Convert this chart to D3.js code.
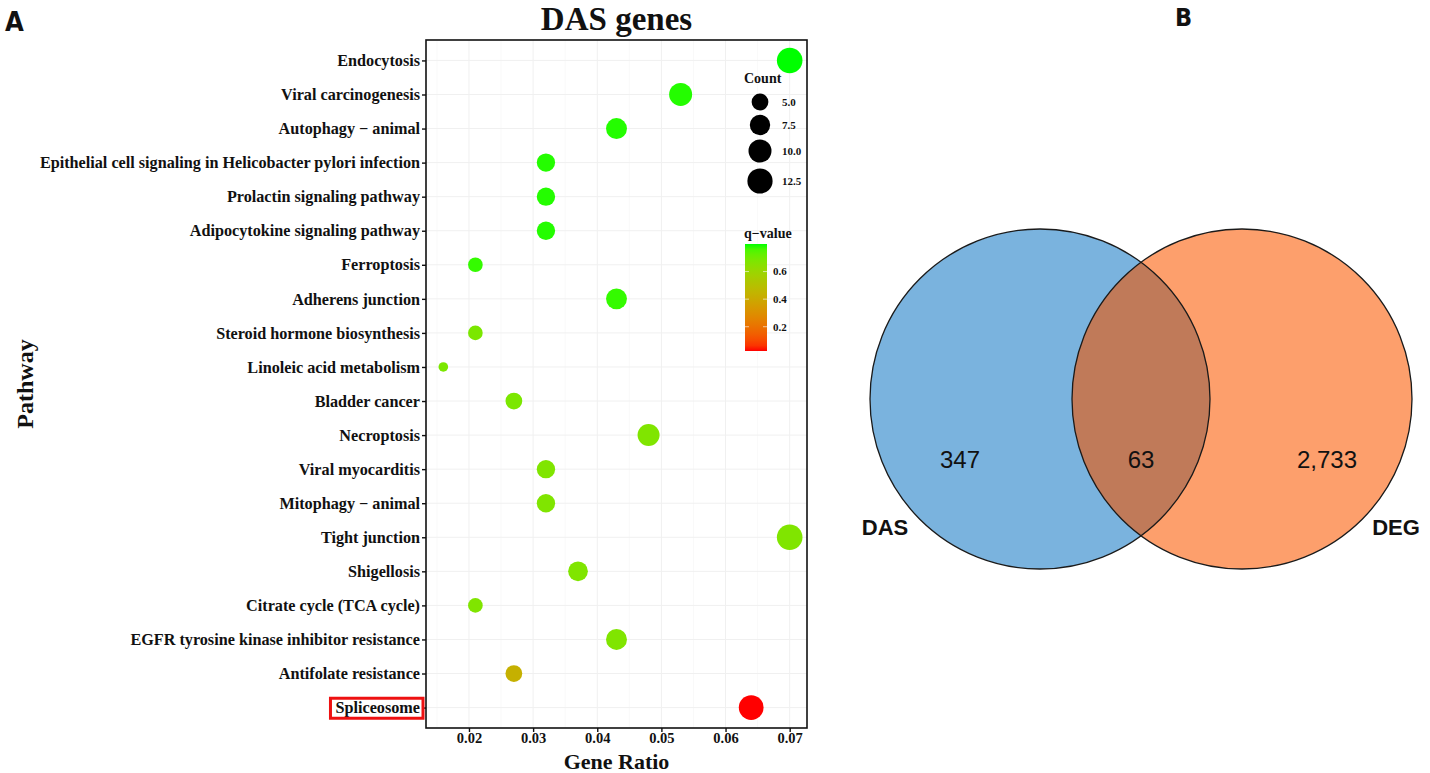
<!DOCTYPE html>
<html>
<head>
<meta charset="utf-8">
<script src="https://cdn.jsdelivr.net/npm/d3@7"></script>
<style>
    body { margin: 0; background: #ffffff; }
    svg { display: block; }
</style>
</head>
<body>
<div id="chart"></div>
<script>
(function () {
    'use strict';

    // KEGG dot plot, rows listed top to bottom
    var pathways = [
        'Endocytosis',
        'Viral carcinogenesis',
        'Autophagy \u2212 animal',
        'Epithelial cell signaling in Helicobacter pylori infection',
        'Prolactin signaling pathway',
        'Adipocytokine signaling pathway',
        'Ferroptosis',
        'Adherens junction',
        'Steroid hormone biosynthesis',
        'Linoleic acid metabolism',
        'Bladder cancer',
        'Necroptosis',
        'Viral myocarditis',
        'Mitophagy \u2212 animal',
        'Tight junction',
        'Shigellosis',
        'Citrate cycle (TCA cycle)',
        'EGFR tyrosine kinase inhibitor resistance',
        'Antifolate resistance',
        'Spliceosome'
    ];
    var geneRatio = [0.070, 0.053, 0.043, 0.032, 0.032, 0.032, 0.021, 0.043, 0.021, 0.016,
                     0.027, 0.048, 0.032, 0.032, 0.070, 0.037, 0.021, 0.043, 0.027, 0.064];
    var geneCount = [13, 10, 8, 6, 6, 6, 4, 8, 4, 3, 5, 9, 6, 6, 13, 7, 4, 8, 5, 12];
    var qValue = [0.80, 0.79, 0.79, 0.79, 0.79, 0.79, 0.78, 0.78, 0.68, 0.68,
                  0.68, 0.67, 0.67, 0.67, 0.67, 0.67, 0.67, 0.67, 0.43, 0.024];

    var xTicks = [0.02, 0.03, 0.04, 0.05, 0.06, 0.07];
    var sizeBreaks = [5.0, 7.5, 10.0, 12.5];
    var qBreaks = [0.2, 0.4, 0.6];
    var highlighted = 'Spliceosome';

    // Venn: DAS only, both, DEG only
    var vennSets = ['DAS', 'DEG'];
    var vennCounts = [347, 63, 2733];

    var svgWidth = 1430;
    var svgHeight = 773;
    var panel = { left: 426, top: 40, right: 807, bottom: 728 };
    var serif = '"Liberation Serif", "Times New Roman", serif';
    var sans = '"Liberation Sans", Arial, sans-serif';
    var narrow = '"Liberation Sans Narrow", "DejaVu Sans Condensed", "Liberation Sans", sans-serif';
    var ink = '#111111';

    var rows = pathways.map(function (p, i) {
        return { pathway: p, ratio: geneRatio[i], count: geneCount[i], q: qValue[i] };
    });

    var svg = d3.select('#chart')
        .append('svg')
        .attr('width', svgWidth)
        .attr('height', svgHeight);

    var defs = svg.append('defs');

    drawDotPlot();
    drawVenn();
    drawPanelLetters();

    function drawDotPlot() {
        var ext = d3.extent(geneRatio);
        var pad = (ext[1] - ext[0]) * 0.05;
        var x = d3.scaleLinear()
            .domain([ext[0] - pad, ext[1] + pad])
            .range([panel.left, panel.right]);
        var y = d3.scalePoint()
            .domain(pathways)
            .range([panel.top, panel.bottom])
            .padding(0.6);

        var cExt = d3.extent(geneCount);
        var sizeNorm = d3.scaleLinear().domain(cExt).range([0, 1]);
        var sizeRange = d3.scaleLinear().domain([0, 1]).range([4.8, 12.8]);
        var radius = function (c) { return sizeRange(Math.sqrt(Math.max(0, sizeNorm(c)))); };

        var qExt = d3.extent(qValue);
        var color = d3.scaleLinear()
            .domain(qExt)
            .range(['#ff0000', '#00ff00'])
            .interpolate(d3.interpolateLab);

        var plot = svg.append('g');

        // faint grid
        var minorX = xTicks.map(function (t) { return t - 0.005; }).concat([0.075]);
        plot.append('g').selectAll('line')
            .data(minorX.filter(function (t) { return x(t) > panel.left && x(t) < panel.right; }))
            .join('line')
            .attr('x1', function (d) { return x(d); })
            .attr('x2', function (d) { return x(d); })
            .attr('y1', panel.top)
            .attr('y2', panel.bottom)
            .attr('stroke', '#f7f7f7')
            .attr('stroke-width', 0.8);
        plot.append('g').selectAll('line')
            .data(xTicks)
            .join('line')
            .attr('x1', function (d) { return x(d); })
            .attr('x2', function (d) { return x(d); })
            .attr('y1', panel.top)
            .attr('y2', panel.bottom)
            .attr('stroke', '#f0f0f0')
            .attr('stroke-width', 1);
        plot.append('g').selectAll('line')
            .data(pathways)
            .join('line')
            .attr('x1', panel.left)
            .attr('x2', panel.right)
            .attr('y1', function (d) { return y(d); })
            .attr('y2', function (d) { return y(d); })
            .attr('stroke', '#f0f0f0')
            .attr('stroke-width', 1);

        // dots
        plot.append('g').selectAll('circle')
            .data(rows)
            .join('circle')
            .attr('cx', function (d) { return x(d.ratio); })
            .attr('cy', function (d) { return y(d.pathway); })
            .attr('r', function (d) { return radius(d.count); })
            .attr('fill', function (d) { return color(d.q); });

        // axes
        var xAxis = plot.append('g')
            .attr('transform', 'translate(0,' + panel.bottom + ')')
            .call(d3.axisBottom(x).tickValues(xTicks).tickFormat(d3.format('.2f')).tickSize(4).tickPadding(1));
        styleAxis(xAxis, 14.5);

        var yAxis = plot.append('g')
            .attr('transform', 'translate(' + panel.left + ',0)')
            .call(d3.axisLeft(y).tickSize(4).tickPadding(2));
        styleAxis(yAxis, 16.2);

        // panel border
        plot.append('rect')
            .attr('x', panel.left)
            .attr('y', panel.top)
            .attr('width', panel.right - panel.left)
            .attr('height', panel.bottom - panel.top)
            .attr('fill', 'none')
            .attr('stroke', ink)
            .attr('stroke-width', 1.6);

        // red box round highlighted pathway
        yAxis.selectAll('.tick')
            .filter(function (d) { return d === highlighted; })
            .each(function () {
                var t = d3.select(this).select('text');
                var bb = t.node().getBBox();
                d3.select(this).append('rect')
                    .attr('x', bb.x - 5)
                    .attr('y', bb.y - 1)
                    .attr('width', bb.width + 8)
                    .attr('height', bb.height + 2)
                    .attr('fill', 'none')
                    .attr('stroke', '#ee1111')
                    .attr('stroke-width', 3);
            });

        // titles
        svg.append('text')
            .attr('x', (panel.left + panel.right) / 2)
            .attr('y', 30)
            .attr('text-anchor', 'middle')
            .attr('font-family', serif)
            .attr('font-weight', 'bold')
            .attr('font-size', 33)
            .attr('fill', ink)
            .text('DAS genes');
        svg.append('text')
            .attr('x', (panel.left + panel.right) / 2)
            .attr('y', 769)
            .attr('text-anchor', 'middle')
            .attr('font-family', serif)
            .attr('font-weight', 'bold')
            .attr('font-size', 22)
            .attr('fill', ink)
            .text('Gene Ratio');
        svg.append('text')
            .attr('transform', 'translate(33,' + ((panel.top + panel.bottom) / 2) + ') rotate(-90)')
            .attr('text-anchor', 'middle')
            .attr('font-family', serif)
            .attr('font-weight', 'bold')
            .attr('font-size', 24)
            .attr('fill', ink)
            .text('Pathway');

        drawLegends(radius, color, qExt);
    }

    function styleAxis(axis, fontSize) {
        axis.select('.domain').remove();
        axis.selectAll('.tick line')
            .attr('stroke', ink)
            .attr('stroke-width', 1.4);
        axis.selectAll('.tick text')
            .attr('font-family', serif)
            .attr('font-weight', 'bold')
            .attr('font-size', fontSize)
            .attr('fill', ink);
    }

    function drawLegends(radius, color, qExt) {
        var lg = svg.append('g');

        lg.append('text')
            .attr('x', 744)
            .attr('y', 83)
            .attr('font-family', serif)
            .attr('font-weight', 'bold')
            .attr('font-size', 14)
            .attr('fill', ink)
            .text('Count');

        var keyY = [102, 125, 151, 181];
        var keys = lg.append('g').selectAll('g')
            .data(sizeBreaks)
            .join('g')
            .attr('transform', function (d, i) { return 'translate(760,' + keyY[i] + ')'; });
        keys.append('circle')
            .attr('r', function (d) { return radius(d); })
            .attr('fill', '#000000');
        keys.append('text')
            .attr('x', 22)
            .attr('dy', '0.35em')
            .attr('font-family', serif)
            .attr('font-weight', 'bold')
            .attr('font-size', 11)
            .attr('fill', ink)
            .text(function (d) { return d3.format('.1f')(d); });

        lg.append('text')
            .attr('x', 744)
            .attr('y', 238)
            .attr('font-family', serif)
            .attr('font-weight', 'bold')
            .attr('font-size', 14)
            .attr('fill', ink)
            .text('q\u2212value');

        var barTop = 244;
        var barBottom = 351;
        var barX = 745;
        var barW = 22;
        var qy = d3.scaleLinear().domain(qExt).range([barBottom, barTop]);

        var grad = defs.append('linearGradient')
            .attr('id', 'qgrad')
            .attr('x1', 0).attr('y1', 1)
            .attr('x2', 0).attr('y2', 0);
        grad.selectAll('stop')
            .data(d3.range(0, 1.0001, 0.05))
            .join('stop')
            .attr('offset', function (t) { return t; })
            .attr('stop-color', function (t) { return color(qExt[0] + t * (qExt[1] - qExt[0])); });

        lg.append('rect')
            .attr('x', barX)
            .attr('y', barTop)
            .attr('width', barW)
            .attr('height', barBottom - barTop)
            .attr('fill', 'url(#qgrad)');

        var ticks = lg.append('g').selectAll('g')
            .data(qBreaks)
            .join('g')
            .attr('transform', function (d) { return 'translate(0,' + qy(d) + ')'; });
        ticks.append('line')
            .attr('x1', barX).attr('x2', barX + 4)
            .attr('stroke', '#ffffff').attr('stroke-opacity', 0.6);
        ticks.append('line')
            .attr('x1', barX + barW - 4).attr('x2', barX + barW)
            .attr('stroke', '#ffffff').attr('stroke-opacity', 0.6);
        ticks.append('text')
            .attr('x', barX + barW + 6)
            .attr('dy', '0.35em')
            .attr('font-family', serif)
            .attr('font-weight', 'bold')
            .attr('font-size', 11)
            .attr('fill', ink)
            .text(function (d) { return d3.format('.1f')(d); });
    }

    function drawVenn() {
        var cx = 1141;
        var cy = 399;
        var r = 170;
        var gap = 202; // distance between the two centres
        var centres = [cx - gap / 2, cx + gap / 2];
        var fills = ['#7ab3de', '#fd9f6c'];

        var g = svg.append('g');

        defs.append('clipPath').attr('id', 'leftClip')
            .append('circle')
            .attr('cx', centres[0]).attr('cy', cy).attr('r', r);

        g.selectAll('circle.set')
            .data(vennSets)
            .join('circle')
            .attr('class', 'set')
            .attr('cx', function (d, i) { return centres[i]; })
            .attr('cy', cy)
            .attr('r', r)
            .attr('fill', function (d, i) { return fills[i]; });

        g.append('circle')
            .attr('cx', centres[1])
            .attr('cy', cy)
            .attr('r', r)
            .attr('clip-path', 'url(#leftClip)')
            .attr('fill', '#c07a59');

        g.selectAll('circle.edge')
            .data(vennSets)
            .join('circle')
            .attr('class', 'edge')
            .attr('cx', function (d, i) { return centres[i]; })
            .attr('cy', cy)
            .attr('r', r)
            .attr('fill', 'none')
            .attr('stroke', '#1a1a1a')
            .attr('stroke-width', 1.3);

        var labelX = [centres[0] - 80, cx, centres[1] + 85];
        g.selectAll('text.count')
            .data(vennCounts)
            .join('text')
            .attr('class', 'count')
            .attr('x', function (d, i) { return labelX[i]; })
            .attr('y', cy + 61)
            .attr('dy', '0.35em')
            .attr('text-anchor', 'middle')
            .attr('font-family', sans)
            .attr('font-size', 24)
            .attr('fill', ink)
            .text(function (d) { return d3.format(',')(d); });

        var nameX = [centres[0] - 155, centres[1] + 154];
        g.selectAll('text.name')
            .data(vennSets)
            .join('text')
            .attr('class', 'name')
            .attr('x', function (d, i) { return nameX[i]; })
            .attr('y', cy + 128)
            .attr('dy', '0.35em')
            .attr('text-anchor', 'middle')
            .attr('font-family', sans)
            .attr('font-weight', 'bold')
            .attr('font-size', 22)
            .attr('fill', ink)
            .text(function (d) { return d; });
    }

    function drawPanelLetters() {
        svg.append('text')
            .attr('x', 5)
            .attr('y', 31)
            .attr('font-family', narrow)
            .attr('font-weight', 'bold')
            .attr('font-size', 27)
            .attr('fill', ink)
            .text('A');
        svg.append('text')
            .attr('x', 1175)
            .attr('y', 26)
            .attr('font-family', narrow)
            .attr('font-weight', 'bold')
            .attr('font-size', 25)
            .attr('fill', ink)
            .text('B');
    }

}());
</script>
</body>
</html>
